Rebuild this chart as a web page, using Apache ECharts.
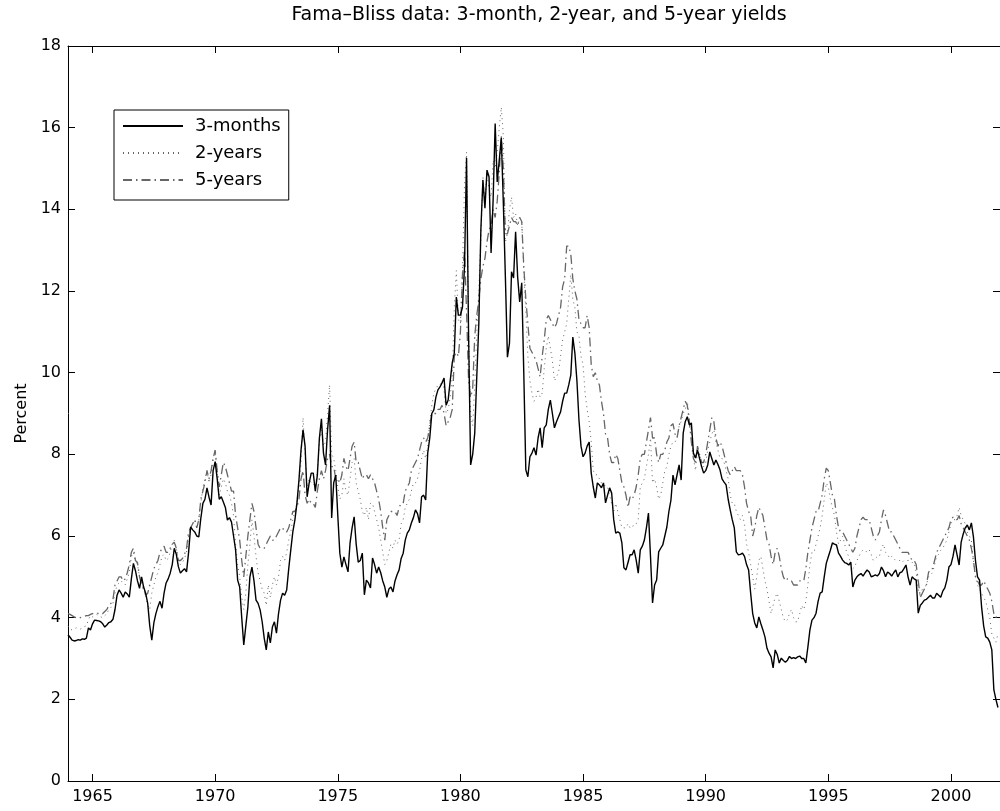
<!DOCTYPE html>
<html>
<head>
<meta charset="utf-8">
<script src="https://cdn.jsdelivr.net/npm/echarts@6/dist/echarts.min.js"></script>
<style>
html,body{margin:0;padding:0;background:#fff;}
#chart{width:1000px;height:811px;}
</style>
</head>
<body>
<div id="chart"></div>
<script>
// Monthly Fama–Bliss yields (percent), January 1964 through December 2001, one row per year
const startYear = 1964;
const titleText = 'Fama\u2013Bliss data: 3-month, 2-year, and 5-year yields';
const seriesNames = ['3-months', '2-years', '5-years'];
const xTickYears = [1965, 1970, 1975, 1980, 1985, 1990, 1995, 2000];

const threeMonth = [
  3.58,3.52,3.45,3.43,3.44,3.46,3.45,3.48,3.47,3.50,3.75,3.70, // 1964
  3.85,3.94,3.93,3.92,3.90,3.85,3.77,3.82,3.88,3.90,3.96,4.20, // 1965
  4.55,4.68,4.60,4.50,4.63,4.58,4.50,4.95,5.33,5.15,4.90,4.72, // 1966
  5.00,4.75,4.60,4.35,3.80,3.45,3.87,4.10,4.27,4.40,4.23,4.60, // 1967
  4.85,4.95,5.09,5.30,5.70,5.55,5.25,5.09,5.15,5.20,5.12,5.60, // 1968
  6.22,6.15,6.10,6.00,5.98,6.44,6.80,6.90,7.18,6.95,6.76,7.60, // 1969
  7.82,7.40,6.90,6.96,6.83,6.70,6.39,6.45,6.34,6.00,5.66,4.92, // 1970
  4.75,4.00,3.33,3.80,4.26,5.00,5.24,4.90,4.43,4.35,4.19,3.90, // 1971
  3.50,3.21,3.65,3.38,3.77,3.90,3.62,4.10,4.43,4.60,4.55,4.68, // 1972
  5.20,5.66,6.10,6.39,6.80,7.37,8.10,8.60,8.20,6.96,7.30,7.54, // 1973
  7.54,7.10,7.49,8.40,8.87,8.03,7.74,8.60,9.20,6.44,7.30,7.49, // 1974
  6.50,5.58,5.24,5.49,5.30,5.12,5.83,6.20,6.47,5.80,5.36,5.40, // 1975
  5.58,4.56,4.92,4.85,4.73,5.46,5.30,5.09,5.24,5.10,4.90,4.75, // 1976
  4.50,4.70,4.75,4.63,4.90,5.05,5.17,5.45,5.58,5.90,6.07,6.15, // 1977
  6.32,6.45,6.64,6.55,6.32,6.96,7.00,6.88,8.03,8.40,9.00,9.09, // 1978
  9.40,9.58,9.65,9.75,9.87,9.20,9.33,9.80,10.24,10.48,11.85,11.41, // 1979
  11.41,11.60,12.60,15.26,10.90,7.74,8.00,8.52,9.90,11.20,13.50,14.72, // 1980
  14.03,14.96,14.80,12.93,14.23,16.10,14.67,15.20,15.75,14.15,12.34,10.38, // 1981
  10.72,12.47,12.32,13.45,12.34,11.73,12.20,9.99,7.62,7.45,7.94,8.03, // 1982
  8.16,7.98,8.40,8.65,8.16,8.65,8.72,9.10,9.33,9.00,8.65,8.80, // 1983
  8.92,9.04,9.30,9.50,9.50,9.70,9.94,10.87,10.48,9.80,8.84,8.20, // 1984
  7.94,8.03,8.20,8.30,7.54,7.20,6.93,7.30,7.25,7.18,7.30,6.81, // 1985
  7.00,7.18,7.05,6.40,6.07,6.10,6.07,5.83,5.22,5.17,5.35,5.54, // 1986
  5.54,5.66,5.41,5.09,5.66,5.75,5.90,6.20,6.56,5.50,4.36,4.80, // 1987
  4.92,5.61,5.70,5.78,6.00,6.22,6.60,6.88,7.49,7.25,7.50,7.74, // 1988
  7.37,8.52,8.80,8.92,8.72,8.77,8.03,7.91,8.10,7.90,7.70,7.54, // 1989
  7.60,7.74,8.06,7.90,7.74,7.86,7.75,7.62,7.40,7.32,7.25,6.90, // 1990
  6.64,6.40,6.20,5.61,5.54,5.55,5.58,5.50,5.30,5.17,4.60,4.10, // 1991
  3.87,3.75,4.02,3.85,3.70,3.53,3.25,3.13,3.04,2.77,3.21,3.10, // 1992
  2.89,3.01,2.95,2.91,2.96,3.05,3.00,3.02,3.00,3.04,3.06,3.00, // 1993
  3.00,2.89,3.28,3.70,3.94,4.00,4.11,4.40,4.60,4.63,5.00,5.33, // 1994
  5.49,5.65,5.83,5.80,5.78,5.58,5.50,5.41,5.35,5.33,5.29,5.36, // 1995
  4.75,4.92,5.00,5.05,5.08,5.02,5.10,5.17,5.12,5.00,5.02,5.05, // 1996
  5.02,5.08,5.24,5.15,5.00,5.12,5.08,5.02,5.10,5.17,5.00,5.10, // 1997
  5.12,5.20,5.29,5.00,4.80,5.00,4.95,4.92,4.11,4.30,4.36,4.43, // 1998
  4.45,4.50,4.55,4.48,4.48,4.60,4.55,4.50,4.65,4.73,4.92,5.24, // 1999
  5.30,5.50,5.78,5.54,5.29,5.85,6.05,6.20,6.27,6.15,6.32,5.98, // 2000
  5.40,5.00,4.92,4.26,3.80,3.53,3.50,3.40,3.21,2.23,2.00,1.80  // 2001
];

const twoYear = [
  3.80,3.72,3.70,3.72,3.75,3.74,3.72,3.74,3.78,3.80,3.95,4.05, // 1964
  4.02,4.05,4.08,4.05,4.02,4.00,4.05,4.10,4.20,4.25,4.35,4.60, // 1965
  4.80,4.85,4.90,4.85,4.80,4.95,5.10,5.50,5.60,5.40,5.30,5.00, // 1966
  4.90,4.70,4.55,4.30,4.20,4.60,4.80,5.00,5.10,5.30,5.50,5.55, // 1967
  5.40,5.45,5.60,5.80,5.90,5.70,5.40,5.30,5.35,5.45,5.60,6.00, // 1968
  6.20,6.30,6.40,6.20,6.40,6.80,7.20,7.40,7.60,7.30,7.50,7.90, // 1969
  8.10,7.50,7.00,7.20,7.40,7.30,7.10,7.00,6.80,6.50,5.80,5.30, // 1970
  5.00,4.50,4.20,4.60,5.30,5.80,6.40,6.00,5.50,5.10,4.90,4.70, // 1971
  4.60,4.30,4.80,4.50,4.80,5.00,4.80,5.00,5.40,5.50,5.40,5.60, // 1972
  5.90,6.10,6.40,6.60,6.80,7.20,7.80,8.90,8.00,7.20,7.40,7.30, // 1973
  7.30,7.20,7.60,8.30,8.60,8.20,8.30,9.00,9.70,8.00,7.90,7.60, // 1974
  7.20,6.90,7.00,7.40,7.10,7.00,7.40,7.80,7.90,7.30,7.10,6.90, // 1975
  6.60,6.50,6.70,6.40,6.80,6.80,6.60,6.40,6.20,5.90,5.60,5.30, // 1976
  5.40,5.60,5.80,5.70,5.90,5.80,5.90,6.30,6.40,6.70,6.80,6.90, // 1977
  7.10,7.30,7.30,7.40,7.60,7.90,8.10,7.90,8.20,8.80,9.20,9.50, // 1978
  9.60,9.70,9.70,9.80,9.60,9.00,9.10,9.40,9.90,11.60,12.50,11.30, // 1979
  11.20,12.50,14.60,15.40,11.00,9.00,8.70,9.70,11.00,12.00,13.30,14.80, // 1980
  14.20,14.90,14.50,14.30,15.20,15.00,15.40,16.00,16.50,15.80,13.20,13.40, // 1981
  14.00,14.30,13.80,13.90,13.60,13.80,13.70,12.50,11.50,10.40,9.80,9.50, // 1982
  9.30,9.40,9.60,9.40,9.50,10.10,10.60,10.90,10.60,10.30,9.80,9.90, // 1983
  10.00,10.40,10.80,11.00,11.20,11.80,12.40,11.80,11.60,11.00,10.90,10.40, // 1984
  10.20,9.50,9.10,8.80,8.30,7.60,7.50,7.50,7.40,7.30,7.30,7.20, // 1985
  7.20,7.00,6.80,6.60,6.80,6.60,6.40,6.20,6.20,6.20,6.30,6.20, // 1986
  6.20,6.30,6.30,6.40,7.20,7.30,7.40,7.70,8.00,8.40,7.30,7.40, // 1987
  7.20,6.90,7.00,7.30,7.60,7.70,8.00,8.20,8.30,8.30,8.40,8.70, // 1988
  8.80,9.00,9.10,9.30,8.90,8.50,7.90,7.60,8.10,8.00,7.80,7.70, // 1989
  7.80,8.10,8.30,8.50,8.60,8.30,8.10,7.90,7.90,7.80,7.60,7.40, // 1990
  7.00,6.80,6.80,6.60,6.50,6.40,6.50,6.30,5.80,5.60,5.30,5.00, // 1991
  4.70,5.00,5.40,5.50,5.20,4.90,4.70,4.40,4.10,4.30,4.50,4.60, // 1992
  4.40,4.20,4.00,3.90,3.95,4.10,4.20,4.00,3.90,3.90,4.10,4.30, // 1993
  4.20,4.40,4.80,5.30,5.60,5.60,5.80,6.00,6.20,6.50,6.90,7.30, // 1994
  7.20,6.90,6.70,6.50,6.10,5.80,5.90,6.00,5.80,5.60,5.50,5.30, // 1995
  5.20,5.25,5.40,5.50,5.60,5.66,5.65,5.60,5.66,5.55,5.40,5.45, // 1996
  5.50,5.50,5.70,5.80,5.60,5.55,5.45,5.50,5.45,5.40,5.40,5.40, // 1997
  5.35,5.40,5.40,5.40,5.40,5.35,5.35,5.10,4.70,4.50,4.70,4.75, // 1998
  4.80,5.00,5.05,5.10,5.30,5.50,5.55,5.65,5.70,5.80,5.90,6.10, // 1999
  6.30,6.40,6.40,6.50,6.70,6.50,6.40,6.30,6.10,6.00,5.90,5.40, // 2000
  5.00,4.80,4.70,4.60,4.50,4.40,4.20,4.00,3.60,3.50,3.40,3.60  // 2001
];

const fiveYear = [
  4.10,4.08,4.05,4.02,4.00,3.98,4.00,4.02,4.03,4.05,4.05,4.08, // 1964
  4.10,4.12,4.12,4.10,4.08,4.10,4.15,4.20,4.30,4.35,4.45,4.80, // 1965
  4.90,5.00,5.00,4.90,4.95,5.10,5.30,5.60,5.70,5.40,5.35,5.00, // 1966
  4.80,4.70,4.55,4.60,4.80,5.00,5.20,5.30,5.40,5.60,5.70,5.75, // 1967
  5.60,5.60,5.70,5.80,5.85,5.70,5.40,5.40,5.45,5.55,5.70,6.10, // 1968
  6.20,6.30,6.40,6.20,6.40,6.90,7.10,7.30,7.60,7.40,7.60,7.90, // 1969
  8.10,7.60,7.20,7.50,7.80,7.70,7.50,7.30,7.10,7.10,6.50,6.20, // 1970
  5.90,5.40,5.00,5.50,6.00,6.40,6.80,6.60,6.20,5.80,5.70,5.70, // 1971
  5.70,5.80,5.90,6.00,5.90,5.90,6.00,6.10,6.20,6.20,6.10,6.10, // 1972
  6.20,6.40,6.60,6.60,6.70,6.90,7.40,7.60,7.00,6.80,6.90,6.80, // 1973
  6.80,6.70,7.10,7.40,7.60,7.40,7.60,7.90,8.00,7.70,7.70,7.40, // 1974
  7.40,7.30,7.50,7.90,7.70,7.60,7.90,8.20,8.30,7.80,7.80,7.60, // 1975
  7.40,7.50,7.50,7.40,7.50,7.40,7.30,7.10,6.90,6.60,6.20,5.90, // 1976
  6.40,6.50,6.60,6.60,6.60,6.50,6.70,6.80,6.80,7.10,7.20,7.30, // 1977
  7.60,7.70,7.80,7.90,8.10,8.30,8.40,8.30,8.40,8.70,9.00,9.00, // 1978
  9.00,9.10,9.10,9.20,9.00,8.70,8.80,8.90,9.10,10.40,10.50,10.40, // 1979
  11.00,12.40,13.00,11.50,9.80,9.40,9.60,10.90,11.40,11.80,12.30,12.60, // 1980
  12.80,13.20,13.50,13.60,14.00,13.80,14.20,14.90,15.80,15.00,13.40,13.40, // 1981
  13.60,13.80,13.70,13.70,13.60,13.80,13.70,12.60,11.80,11.20,10.60,10.50, // 1982
  10.40,10.30,10.10,9.90,10.40,10.80,11.30,11.40,11.30,11.20,11.10,11.20, // 1983
  11.40,11.60,12.10,12.30,13.10,13.10,12.90,12.30,12.00,11.80,11.30,11.20, // 1984
  11.10,11.10,11.40,11.10,10.20,9.90,10.00,9.80,9.70,9.30,9.00,8.50, // 1985
  8.40,8.00,7.80,7.80,8.00,7.90,7.60,7.30,7.20,7.00,6.70,6.96, // 1986
  6.90,7.00,7.20,7.50,7.90,8.00,8.00,8.30,8.60,8.90,8.40,8.40, // 1987
  8.00,7.80,8.00,8.00,8.10,8.30,8.40,8.70,8.75,8.50,8.40,8.70, // 1988
  8.90,9.10,9.30,9.20,8.80,8.30,7.90,7.80,8.20,8.00,7.80,7.80, // 1989
  8.00,8.30,8.60,8.90,8.80,8.40,8.20,8.30,8.20,8.00,7.80,7.60, // 1990
  7.50,7.60,7.70,7.60,7.60,7.60,7.50,7.20,6.80,6.60,6.50,6.00, // 1991
  6.20,6.50,6.70,6.60,6.50,6.20,5.90,5.80,5.50,5.30,5.60,5.70, // 1992
  5.50,5.20,5.00,4.90,4.95,4.95,4.90,4.80,4.80,4.80,4.90,4.90, // 1993
  4.90,5.20,5.60,5.90,6.20,6.40,6.60,6.60,6.80,7.00,7.40,7.66, // 1994
  7.60,7.30,7.00,6.90,6.50,6.20,6.10,6.10,6.00,5.90,5.80,5.70, // 1995
  5.60,5.70,6.00,6.20,6.40,6.46,6.40,6.40,6.40,6.20,6.00,5.90, // 1996
  6.00,6.10,6.40,6.64,6.50,6.30,6.10,6.10,6.00,5.90,5.80,5.70, // 1997
  5.60,5.60,5.60,5.60,5.50,5.40,5.40,5.30,4.90,4.50,4.60,4.70, // 1998
  4.80,5.10,5.20,5.20,5.40,5.60,5.70,5.80,5.90,6.00,6.10,6.20, // 1999
  6.40,6.46,6.40,6.40,6.50,6.30,6.20,6.10,6.00,5.90,5.70,5.40, // 2000
  5.00,4.90,4.80,4.80,4.90,4.80,4.70,4.60,4.40,4.10,4.00,4.10  // 2001
];

function toPairs(arr) {
  return arr.map((v, i) => [startYear + i / 12, v]);
}

const FONT = '"DejaVu Sans", "Liberation Sans", Arial, sans-serif';
const chart = echarts.init(document.getElementById('chart'), null, {renderer: 'canvas'});

const tickStyle = {show: true, inside: true, length: 7, lineStyle: {color: '#000', width: 1}};
const axisLineStyle = {show: true, onZero: false, lineStyle: {color: '#000', width: 1}};

const option = {
  animation: false,
  backgroundColor: '#fff',
  title: {
    text: titleText,
    left: 534, top: 1, textAlign: 'center',
    textStyle: {fontFamily: FONT, fontSize: 19, fontWeight: 'normal', color: '#000'}
  },
  legend: {
    left: 114, top: 110,
    orient: 'vertical',
    data: seriesNames,
    itemWidth: 60, itemHeight: 14, itemGap: 9,
    padding: [7, 8, 11, 8],
    borderColor: '#000', borderWidth: 1,
    backgroundColor: '#fff',
    itemStyle: {opacity: 0},
    textStyle: {fontFamily: FONT, fontSize: 18, color: '#000', padding: [0, 0, 0, 7]},
    selectedMode: false
  },
  grid: {left: 68, right: -5, top: 46, bottom: 30, containLabel: false},
  xAxis: [
    {
      type: 'value', min: startYear, max: 2002, position: 'bottom',
      axisLine: axisLineStyle,
      axisTick: Object.assign({}, tickStyle, {customValues: xTickYears}),
      axisLabel: {customValues: xTickYears, formatter: v => String(v),
        color: '#000', fontFamily: FONT, fontSize: 16, margin: 8},
      splitLine: {show: false}
    },
    {
      type: 'value', min: startYear, max: 2002, position: 'top',
      axisLine: axisLineStyle,
      axisTick: Object.assign({}, tickStyle, {customValues: xTickYears}),
      axisLabel: {show: false, customValues: xTickYears},
      splitLine: {show: false}
    }
  ],
  yAxis: [
    {
      type: 'value', min: 0, max: 18, interval: 2, position: 'left',
      name: 'Percent', nameLocation: 'middle', nameGap: 36, nameRotate: 90,
      nameTextStyle: {fontFamily: FONT, fontSize: 16, color: '#000'},
      axisLine: axisLineStyle,
      axisTick: tickStyle,
      axisLabel: {color: '#000', fontFamily: FONT, fontSize: 16, margin: 7},
      splitLine: {show: false}
    },
    {
      type: 'value', min: 0, max: 18, interval: 2, position: 'right',
      axisLine: axisLineStyle,
      axisTick: tickStyle,
      axisLabel: {show: false},
      splitLine: {show: false}
    }
  ],
  series: [
    {
      name: seriesNames[0], type: 'line', data: toPairs(threeMonth),
      showSymbol: false, symbol: 'none', z: 5,
      lineStyle: {color: '#000', width: 1.4, type: 'solid'},
      itemStyle: {color: '#000'}
    },
    {
      name: seriesNames[1], type: 'line', data: toPairs(twoYear),
      showSymbol: false, symbol: 'none', z: 4,
      lineStyle: {color: '#666', width: 1, type: [1, 4]},
      itemStyle: {color: '#666'}
    },
    {
      name: seriesNames[2], type: 'line', data: toPairs(fiveYear),
      showSymbol: false, symbol: 'none', z: 3,
      lineStyle: {color: '#666', width: 1.3, type: [9, 4, 1.5, 4]},
      itemStyle: {color: '#666'}
    }
  ]
};
chart.setOption(option);
</script>
</body>
</html>
